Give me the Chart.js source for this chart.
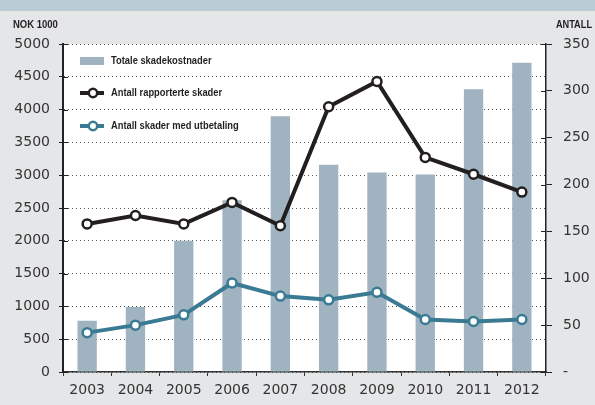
<!DOCTYPE html>
<html>
<head>
<meta charset="utf-8">
<script src="https://cdn.jsdelivr.net/npm/chart.js@4/dist/chart.umd.min.js"></script>
<style>
  html, body { margin: 0; padding: 0; background: #e5e6e8; }
  #wrap { width: 595px; height: 405px; }
</style>
</head>
<body>
<div id="wrap"><canvas id="skader" width="595" height="405"></canvas></div>
<script>
const years = ['2003', '2004', '2005', '2006', '2007', '2008', '2009', '2010', '2011', '2012'];
const totalCosts = [780, 990, 2000, 2620, 3900, 3160, 3040, 3010, 4310, 4715];     // NOK 1000
const reportedClaims = [158, 167, 158, 181, 156, 283, 310, 229, 211, 192];        // antall
const paidClaims = [42, 50, 61, 95, 81, 77, 85, 56, 54, 56];                      // antall
const seriesNames = ['Totale skadekostnader', 'Antall rapporterte skader', 'Antall skader med utbetaling'];

const barColor = '#a0b3c0';
const blackLine = '#231f20';
const tealLine = '#3a7b93';

// background, title strip and white plot area
const backdrop = {
    id: 'backdrop',
    beforeDraw(chart) {
        const { ctx, chartArea: a, width, height } = chart;
        ctx.save();
        ctx.fillStyle = '#e5e6e8';
        ctx.fillRect(0, 0, width, height);
        ctx.fillStyle = '#b9cbd5';
        ctx.fillRect(0, 0, width, 11);
        ctx.fillStyle = '#ffffff';
        ctx.fillRect(a.left, a.top, a.right - a.left, a.bottom - a.top);
        ctx.restore();
    }
};

// narrow bold text: squeeze a regular bold face horizontally
function narrowText(ctx, text, x, y, align, squeeze) {
    ctx.save();
    ctx.translate(x, y);
    ctx.scale(squeeze, 1);
    ctx.textAlign = align;
    ctx.fillText(text, 0, 0);
    ctx.restore();
}

// tick marks that cross into the plot, axis unit labels and the legend box
const extras = {
    id: 'extras',
    afterDraw(chart) {
        const { ctx, chartArea: a } = chart;
        const yL = chart.scales.y, yR = chart.scales.y1;
        ctx.save();
        ctx.strokeStyle = '#222';
        ctx.lineWidth = 1;
        yL.ticks.forEach(t => {
            const p = Math.round(yL.getPixelForValue(t.value)) + 0.5;
            ctx.beginPath(); ctx.moveTo(a.left, p); ctx.lineTo(a.left + 5, p); ctx.stroke();
        });
        yR.ticks.forEach(t => {
            const p = Math.round(yR.getPixelForValue(t.value)) + 0.5;
            ctx.beginPath(); ctx.moveTo(a.right - 5, p); ctx.lineTo(a.right, p); ctx.stroke();
        });

        ctx.fillStyle = '#231f20';
        ctx.font = 'bold 10px "Liberation Sans", sans-serif';
        ctx.textBaseline = 'middle';
        narrowText(ctx, 'NOK 1000', 13, 25, 'left', 0.95);
        narrowText(ctx, 'ANTALL', 592, 25, 'right', 0.92);

        // legend
        const x0 = 80, w = 24, tx = 111;
        const rows = [61, 93, 126];
        ctx.fillStyle = barColor;
        ctx.fillRect(x0, rows[0] - 4, w, 8);
        [[blackLine, rows[1]], [tealLine, rows[2]]].forEach(([c, y]) => {
            ctx.strokeStyle = c;
            ctx.lineWidth = 4;
            ctx.beginPath(); ctx.moveTo(x0, y); ctx.lineTo(x0 + w, y); ctx.stroke();
            ctx.fillStyle = '#fff';
            ctx.lineWidth = 2.5;
            ctx.beginPath(); ctx.arc(x0 + 13, y, 4.2, 0, Math.PI * 2); ctx.fill(); ctx.stroke();
        });
        ctx.fillStyle = '#231f20';
        ctx.font = 'bold 10.5px "Liberation Sans", sans-serif';
        seriesNames.forEach((s, i) => narrowText(ctx, s, tx, rows[i] + 0.5, 'left', 0.89));
        ctx.restore();
    }
};

const tickFont = { family: '"DejaVu Sans", sans-serif', size: 14 };

new Chart(document.getElementById('skader'), {
    data: {
        labels: years,
        datasets: [
            {
                type: 'line',
                label: seriesNames[1],
                data: reportedClaims,
                yAxisID: 'y1',
                order: 1,
                borderColor: blackLine,
                borderWidth: 4,
                pointRadius: 4.5,
                pointBorderWidth: 2.5,
                pointBackgroundColor: '#fff',
                pointBorderColor: blackLine,
                tension: 0,
            },
            {
                type: 'line',
                label: seriesNames[2],
                data: paidClaims,
                yAxisID: 'y1',
                order: 0,
                borderColor: tealLine,
                borderWidth: 4,
                pointRadius: 4.5,
                pointBorderWidth: 2.5,
                pointBackgroundColor: '#fff',
                pointBorderColor: tealLine,
                tension: 0,
            },
            {
                type: 'bar',
                label: seriesNames[0],
                data: totalCosts,
                yAxisID: 'y',
                order: 2,
                backgroundColor: barColor,
                barPercentage: 0.4,
                categoryPercentage: 1,
            },
        ],
    },
    options: {
        responsive: false,
        animation: false,
        devicePixelRatio: 1,
        layout: { padding: { top: 44, left: 0, right: 0, bottom: 0 } },
        scales: {
            x: {
                offset: true,
                afterFit: s => { s.height = 33; },
                grid: { offset: true, drawOnChartArea: false, drawTicks: true, tickLength: 4, color: '#333' },
                border: { color: '#333', width: 1.5 },
                ticks: { font: tickFont, color: '#333', padding: 6, maxRotation: 0 },
            },
            y: {
                position: 'left',
                min: 0, max: 5000,
                afterFit: s => { s.width = 63; },
                grid: { color: '#555', tickLength: 4, tickColor: '#222', tickBorderDash: [] },
                border: { color: '#222', width: 2, dash: [1, 3] },
                ticks: { stepSize: 500, font: tickFont, color: '#333', padding: 9, callback: v => String(v) },
            },
            y1: {
                position: 'right',
                min: 0, max: 350,
                afterFit: s => { s.width = 49; },
                grid: { drawOnChartArea: false, tickLength: 6, color: '#222' },
                border: { color: '#222', width: 1.5 },
                ticks: {
                    stepSize: 50, font: tickFont, color: '#333', padding: 11,
                    callback: v => v === 0 ? '-' : String(v),
                },
            },
        },
        plugins: {
            legend: { display: false },
            tooltip: { enabled: false },
        },
    },
    plugins: [backdrop, extras],
});
</script>
</body>
</html>
